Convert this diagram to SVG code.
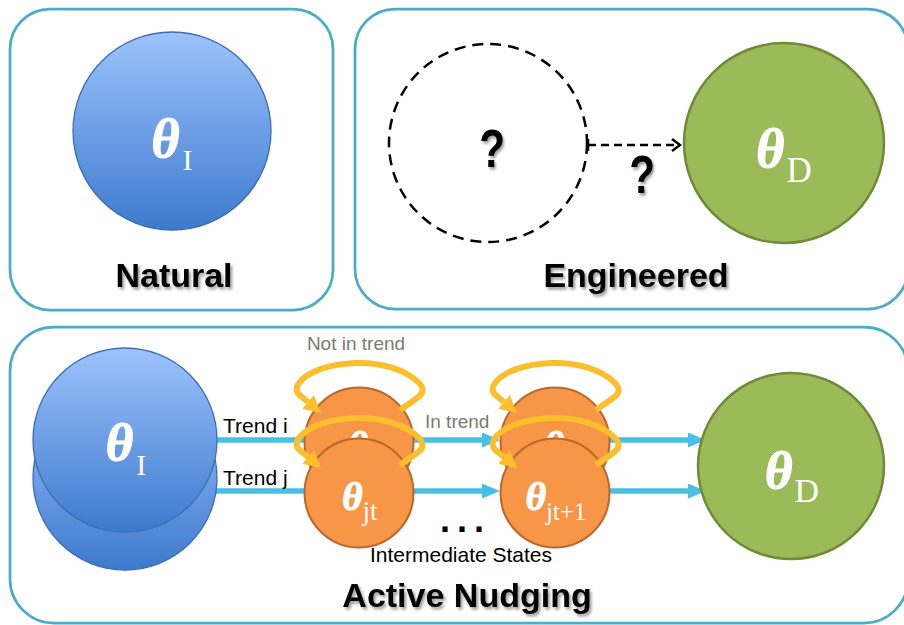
<svg xmlns="http://www.w3.org/2000/svg" width="904" height="625" viewBox="0 0 904 625">
  <style>
    .panel { fill: #ffffff; stroke: #4bacc6; stroke-width: 2.75; }
    .blue { fill: url(#blueGrad); stroke: #3c6db0; stroke-width: 1.3; }
    .green { fill: #9bbb59; stroke: #71893a; stroke-width: 2.5; }
    .orange { fill: #f79646; stroke: #b8692b; stroke-width: 2; }
    .theta { font-family: "Liberation Serif", "Times New Roman", serif; font-weight: bold; font-style: italic; fill: #ffffff; stroke: #ffffff; stroke-width: 1.2; }
    .sub { font-weight: normal; font-style: normal; stroke: none; }
    .title { font-family: "Liberation Sans", Arial, sans-serif; font-weight: bold; font-size: 34px; fill: #000000; filter: url(#shadow); }
    .qmark { font-family: "Liberation Sans", Arial, sans-serif; font-weight: bold; font-size: 54px; fill: #000000; filter: url(#shadow); }
    .label { font-family: "Liberation Sans", Arial, sans-serif; font-size: 21px; fill: #000000; }
    .note { font-family: "Liberation Sans", Arial, sans-serif; font-size: 19px; fill: #7a7b72; }
    .dots { font-family: "Liberation Sans", Arial, sans-serif; font-size: 36px; font-weight: bold; letter-spacing: 7px; fill: #000000; }
    .flow { fill: none; stroke: #48bfe5; stroke-width: 5.5; }
    .loop { fill: none; stroke: #fbbf2e; stroke-width: 6; stroke-linejoin: round; marker-end: url(#loopHead); }
    .dashed { fill: none; stroke: #000000; stroke-width: 2.5; }
  </style>
  <defs>
    <linearGradient id="blueGrad" x1="0" y1="0" x2="0" y2="1">
      <stop offset="0" stop-color="#9dc3fd"/>
      <stop offset="1" stop-color="#3d7acd"/>
    </linearGradient>
    <filter id="shadow" x="-10%" y="-20%" width="130%" height="150%">
      <feDropShadow dx="2" dy="2.5" stdDeviation="1.6" flood-color="#000000" flood-opacity="0.4"/>
    </filter>
    <marker id="flowHead" markerUnits="userSpaceOnUse" viewBox="0 0 18 15" refX="0" refY="7.5" markerWidth="18" markerHeight="15" orient="auto">
      <path d="M0,0 L18,7.5 L0,15 z" fill="#48bfe5"/>
    </marker>
    <marker id="loopHead" markerUnits="userSpaceOnUse" viewBox="0 0 17 18" refX="0" refY="9" markerWidth="17" markerHeight="18" orient="auto">
      <path d="M0,0 L17,9 L0,18 z" fill="#fbbf2e"/>
    </marker>
    <marker id="chevron" markerUnits="userSpaceOnUse" viewBox="0 0 12 14" refX="10" refY="7" markerWidth="12" markerHeight="14" orient="auto">
      <path d="M2,1 L10,7 L2,13" fill="none" stroke="#000000" stroke-width="2.5"/>
    </marker>
    <!-- self-loop above an intermediate state, drawn for the state centred at (359, 442) -->
    <path id="selfLoop" class="loop" d="M 400 410 L 417 398 Q 427 391 419 383 C 405 369 380 362 355 363 C 330 364 308 371 299 383 Q 293 391 302 397 L 308 402"/>
  </defs>

  <!-- panels -->
  <g id="panels">
    <rect class="panel" x="10" y="9" width="323" height="301" rx="40"/>
    <rect class="panel" x="355" y="9" width="553" height="300" rx="40"/>
    <rect class="panel" x="10" y="327" width="898" height="296" rx="44"/>
  </g>

  <!-- Natural -->
  <g id="natural-theta-i">
    <circle class="blue" cx="172" cy="131" r="99"/>
    <text class="theta" x="172" y="157" font-size="54" text-anchor="middle">θ<tspan class="sub" font-size="30" dx="3" dy="13">I</tspan></text>
  </g>
  <text class="title" x="174" y="287" text-anchor="middle">Natural</text>

  <!-- Engineered -->
  <g id="engineered-unknown">
    <circle class="dashed" cx="488" cy="143" r="99" stroke-dasharray="11 7"/>
    <text class="qmark" transform="translate(492,167) scale(0.78,1)" text-anchor="middle">?</text>
  </g>
  <g id="engineered-theta-d">
    <circle class="green" cx="784" cy="143" r="100"/>
    <text class="theta" x="784" y="167" font-size="54" text-anchor="middle">θ<tspan class="sub" font-size="35" dx="2" dy="15">D</tspan></text>
  </g>
  <g id="engineered-connector">
    <line class="dashed" x1="588" y1="139" x2="588" y2="151"/>
    <line class="dashed" x1="588" y1="145" x2="680" y2="145" stroke-dasharray="8 5" marker-end="url(#chevron)"/>
    <text class="qmark" transform="translate(642,193) scale(0.78,1)" text-anchor="middle">?</text>
  </g>
  <text class="title" x="636" y="287" text-anchor="middle">Engineered</text>

  <!-- Active Nudging: trend connectors -->
  <g id="connectors">
    <line class="flow" x1="205" y1="440" x2="312" y2="440"/>
    <line class="flow" x1="205" y1="491" x2="312" y2="491"/>
    <line class="flow" x1="410" y1="440" x2="482" y2="440" marker-end="url(#flowHead)"/>
    <line class="flow" x1="410" y1="491" x2="482" y2="491" marker-end="url(#flowHead)"/>
    <line class="flow" x1="605" y1="440" x2="688" y2="440" marker-end="url(#flowHead)"/>
    <line class="flow" x1="605" y1="491" x2="688" y2="491" marker-end="url(#flowHead)"/>
  </g>

  <g id="nudge-theta-i">
    <circle class="blue" cx="125" cy="478" r="92"/>
    <circle class="blue" cx="125" cy="440" r="92"/>
    <text class="theta" x="126" y="460" font-size="53" text-anchor="middle">θ<tspan class="sub" font-size="30" dx="3" dy="15">I</tspan></text>
  </g>

  <g id="state-it">
    <circle class="orange" cx="359" cy="442" r="54.5"/>
    <text class="theta" x="358" y="459" font-size="39" text-anchor="middle">θ</text>
    <use href="#selfLoop"/>
  </g>
  <g id="state-jt">
    <circle class="orange" cx="359" cy="493" r="54.5"/>
    <text class="theta" x="360" y="510" font-size="39" text-anchor="middle">θ<tspan class="sub" font-size="27" dy="10">jt</tspan></text>
    <use href="#selfLoop" transform="translate(0,55)"/>
  </g>
  <g id="state-it1">
    <circle class="orange" cx="555" cy="442" r="54.5"/>
    <text class="theta" x="554" y="459" font-size="39" text-anchor="middle">θ</text>
    <use href="#selfLoop" transform="translate(196,0)"/>
  </g>
  <g id="state-jt1">
    <circle class="orange" cx="555" cy="493" r="54.5"/>
    <text class="theta" x="556" y="510" font-size="39" text-anchor="middle">θ<tspan class="sub" font-size="25" dy="10">jt+1</tspan></text>
    <use href="#selfLoop" transform="translate(196,55)"/>
  </g>

  <g id="nudge-theta-d">
    <circle class="green" cx="791" cy="466" r="93"/>
    <text class="theta" x="792" y="488" font-size="53" text-anchor="middle">θ<tspan class="sub" font-size="34" dx="2" dy="14">D</tspan></text>
  </g>

  <!-- labels -->
  <text class="label" x="223" y="433">Trend i</text>
  <text class="label" x="223" y="485">Trend j</text>
  <text class="note" x="356" y="350" text-anchor="middle">Not in trend</text>
  <text class="note" x="425" y="428">In trend</text>
  <text class="dots" x="440" y="532">...</text>
  <text class="label" x="461" y="562" text-anchor="middle">Intermediate States</text>
  <text class="title" x="467" y="607" font-size="33" text-anchor="middle">Active Nudging</text>
</svg>
